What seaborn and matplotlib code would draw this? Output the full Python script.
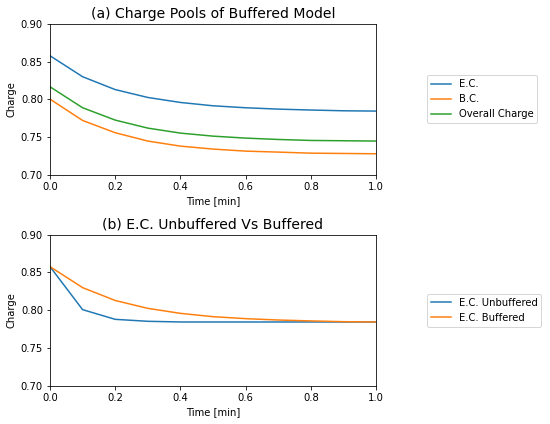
import numpy as np
import pandas as pd
import matplotlib
matplotlib.use("Agg")
import matplotlib.pyplot as plt
import seaborn as sns

# --- data ---
time_min = [0.0, 0.1, 0.2, 0.3, 0.4, 0.5, 0.6, 0.7, 0.8, 0.9, 1.0]
ec_buffered = [0.8577, 0.830, 0.813, 0.8026, 0.796, 0.7916, 0.789, 0.7872, 0.786, 0.785, 0.7846]
bc_buffered = [0.8004, 0.7722, 0.756, 0.745, 0.7383, 0.7344, 0.7317, 0.7304, 0.729, 0.7286, 0.7282]
overall_charge = [0.8167, 0.789, 0.7727, 0.7621, 0.7555, 0.7515, 0.7489, 0.7471, 0.7458, 0.7454, 0.745]
ec_unbuffered = [0.8577, 0.8009, 0.7881, 0.7855, 0.7846, 0.7846, 0.7846, 0.7846, 0.7846, 0.7846, 0.7846]

top_labels = ["E.C.", "B.C.", "Overall Charge"]
bottom_labels = ["E.C. Unbuffered", "E.C. Buffered"]

# long-form frames for seaborn
top_df = pd.DataFrame({
    "time": time_min * 3,
    "charge": ec_buffered + bc_buffered + overall_charge,
    "pool": np.repeat(top_labels, len(time_min)),
})
bottom_df = pd.DataFrame({
    "time": time_min * 2,
    "charge": ec_unbuffered + ec_buffered,
    "pool": np.repeat(bottom_labels, len(time_min)),
})

colors = ["#1f77b4", "#ff7f0e", "#2ca02c"]

fig = plt.figure(figsize=(550 / 72, 424 / 72), dpi=72)
ax1 = fig.add_axes([0.0909, 0.587, 0.5927, 0.357])
ax2 = fig.add_axes([0.0909, 0.0896, 0.5927, 0.357])

sns.lineplot(data=top_df, x="time", y="charge", hue="pool", hue_order=top_labels,
             palette=colors, ax=ax1, linewidth=1.5)
sns.lineplot(data=bottom_df, x="time", y="charge", hue="pool", hue_order=bottom_labels,
             palette=colors[:2], ax=ax2, linewidth=1.5)

titles = ["(a) Charge Pools of Buffered Model", "(b) E.C. Unbuffered Vs Buffered"]
for ax, title in zip([ax1, ax2], titles):
    ax.set_xlim(0, 1)
    ax.set_ylim(0.70, 0.90)
    ax.set_yticks([0.70, 0.75, 0.80, 0.85, 0.90])
    ax.set_xticks([0.0, 0.2, 0.4, 0.6, 0.8, 1.0])
    ax.set_xlabel("Time [min]")
    ax.set_ylabel("Charge")
    ax.set_title(title, fontsize=14)
    ax.legend(title=None, loc="center left", bbox_to_anchor=(1.14, 0.5), fontsize=10)

fig.savefig("out.png", dpi=72, facecolor="white")
